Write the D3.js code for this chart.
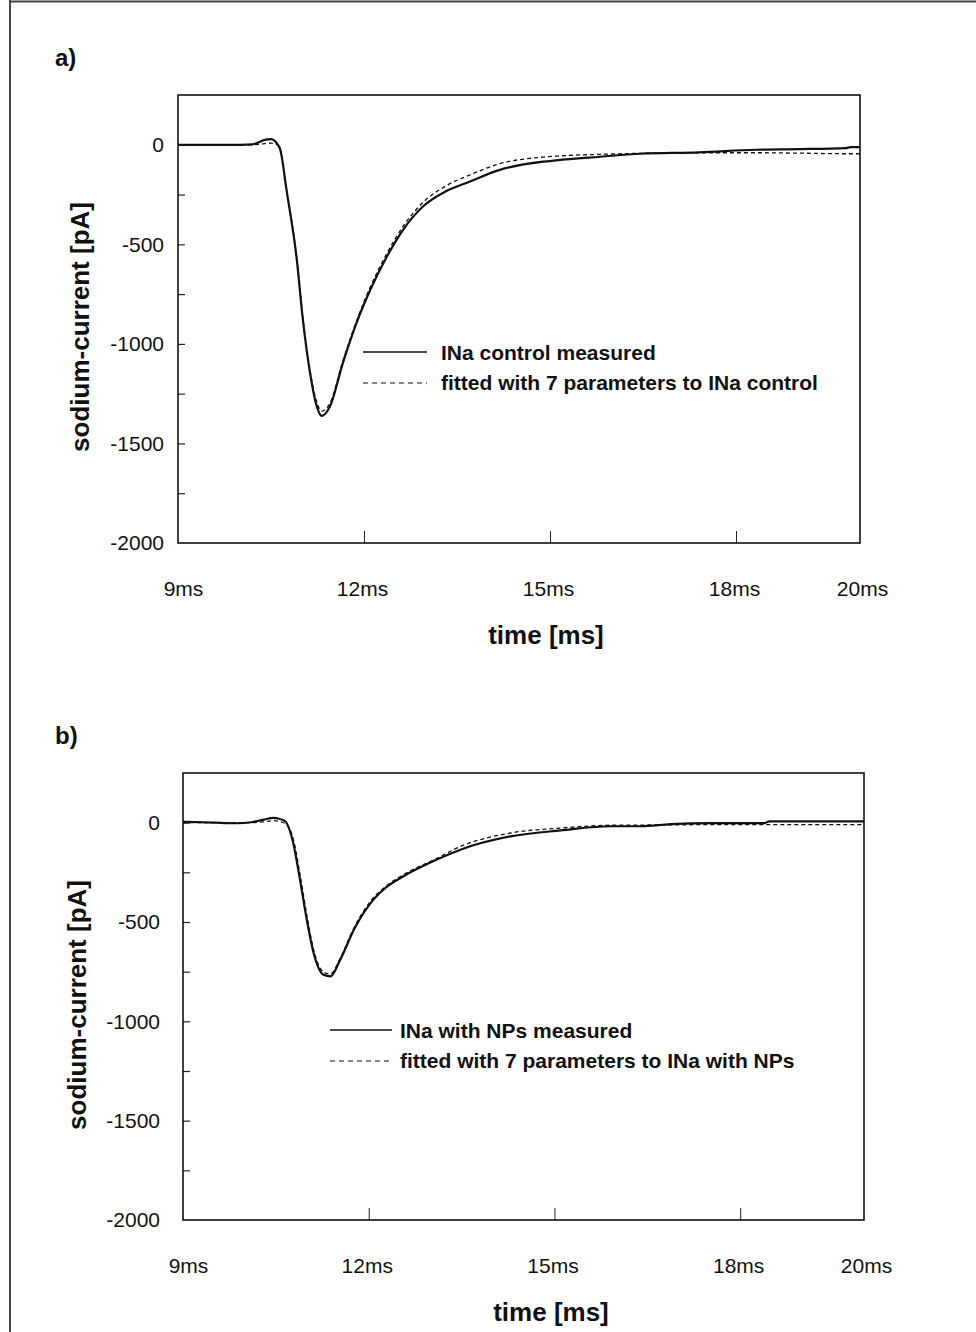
<!DOCTYPE html>
<html>
<head>
<meta charset="utf-8">
<script src="https://cdn.jsdelivr.net/npm/d3@7"></script>
<style>
  body { margin: 0; background: #fff; }
  svg { display: block; font-family: "Liberation Sans", Arial, sans-serif; }
  .tick text { fill: #111; }
</style>
</head>
<body>
<div id="chart"></div>
<script>
// ---- data ----
// panel a: INa control
var timeA = [9.0, 9.5, 10.0, 10.2, 10.3, 10.4, 10.5, 10.56, 10.6, 10.65, 10.75, 10.91, 11.02, 11.13, 11.24, 11.32, 11.45, 11.66, 11.88, 12.10, 12.37, 12.63, 12.95, 13.33, 13.71, 14.19, 14.89, 15.1, 15.81, 16.45, 17.4, 18.32, 19.0, 19.77, 19.85, 20.0];
var measuredA = [0, 0, 0, 2, 12, 25, 28, 20, 5, -25, -226, -561, -894, -1146, -1315, -1362, -1315, -1095, -894, -729, -561, -427, -310, -232, -184, -126, -85, -78, -60, -45, -38, -25, -22, -17, -12, -12];
var fittedA = [0, 0, 0, 0, 2, 6, 8, 5, 0, -22, -220, -555, -885, -1135, -1295, -1338, -1298, -1085, -885, -715, -545, -410, -290, -205, -151, -95, -62, -57, -48, -43, -40, -40, -42, -45, -45, -45];

// panel b: INa with NPs
var timeB = [9.0, 9.5, 9.87, 10.1, 10.3, 10.46, 10.55, 10.65, 10.78, 10.89, 11.0, 11.11, 11.27, 11.38, 11.54, 11.76, 12.03, 12.30, 12.56, 13.10, 13.48, 14.29, 15.1, 15.91, 16.4, 16.88, 17.53, 18.4, 18.47, 20.0];
var measuredB = [5, 0, -3, 2, 15, 24, 20, 7, -102, -287, -489, -656, -766, -774, -690, -539, -405, -321, -270, -186, -136, -69, -39, -18, -18, -7, -2, -2, 7, 7];
var fittedB = [0, 0, 0, 0, 4, 10, 6, -5, -80, -260, -465, -640, -752, -762, -682, -530, -395, -315, -262, -180, -120, -52, -27, -13, -12, -11, -10, -10, -10, -10];

var xTickLabels = [9, 12, 15, 18, 20];
var xInnerTicks = [12, 15, 18];
var yTickLabels = [0, -500, -1000, -1500, -2000];
var yInnerTicks = [-1750, -1500, -1250, -1000, -750, -500, -250, 0];

var legendA = ["INa control measured", "fitted with 7 parameters to INa control"];
var legendB = ["INa with NPs measured", "fitted with 7 parameters to INa with NPs"];

// ---- layout ----
var W = 976, H = 1332;
var svg = d3.select("#chart").append("svg")
    .attr("width", W)
    .attr("height", H);

svg.append("rect").attr("width", W).attr("height", H).attr("fill", "#fff");

// outer frame (top and left edges visible)
svg.append("line").attr("x1", 10).attr("x2", W).attr("y1", 1.5).attr("y2", 1.5)
    .attr("stroke", "#444").attr("stroke-width", 2);
svg.append("line").attr("x1", 10).attr("x2", 10).attr("y1", 0).attr("y2", H)
    .attr("stroke", "#444").attr("stroke-width", 2);

function drawPanel(p) {
    var x = d3.scaleLinear().domain([9, 20]).range([p.left, p.right]);
    var y = d3.scaleLinear().domain([-2000, 250]).range([p.bottom, p.top]);
    var g = svg.append("g");

    // panel letter
    g.append("text")
        .attr("x", 55).attr("y", p.letterY)
        .attr("font-size", 24).attr("font-weight", "bold").attr("fill", "#111")
        .text(p.letter);

    // x tick labels (nudged like the original)
    var xAxis = d3.axisBottom(x).tickValues(xTickLabels).tickSize(0).tickPadding(38)
        .tickFormat(function(d) { return d + "ms"; });
    g.append("g")
        .attr("transform", "translate(0," + p.bottom + ")")
        .call(xAxis)
        .call(function(s) { s.select(".domain").remove(); })
        .selectAll("text")
        .attr("font-size", 21)
        .attr("dx", function(d) { return d === 9 ? 5 : (d === 20 ? 2 : -2); });

    // x inner ticks
    g.append("g")
        .attr("transform", "translate(0," + p.bottom + ")")
        .call(d3.axisTop(x).tickValues(xInnerTicks).tickSize(12).tickFormat(""))
        .call(function(s) { s.select(".domain").remove(); })
        .selectAll("line").attr("stroke", "#222").attr("stroke-width", 1);

    // y tick labels
    var yAxis = d3.axisLeft(y).tickValues(yTickLabels).tickSize(0).tickPadding(p.yPad)
        .tickFormat(function(d) { return String(d); });
    g.append("g")
        .attr("transform", "translate(" + p.left + ",0)")
        .call(yAxis)
        .call(function(s) { s.select(".domain").remove(); })
        .selectAll("text").attr("font-size", 21);

    // y inner ticks
    g.append("g")
        .attr("transform", "translate(" + p.left + ",0)")
        .call(d3.axisRight(y).tickValues(yInnerTicks).tickSize(7).tickFormat(""))
        .call(function(s) { s.select(".domain").remove(); })
        .selectAll("line").attr("stroke", "#222").attr("stroke-width", 1.2);

    // plot box
    g.append("rect")
        .attr("x", p.left).attr("y", y(250))
        .attr("width", p.right - p.left).attr("height", p.bottom - y(250))
        .attr("fill", "none").attr("stroke", "#111").attr("stroke-width", 1.6);

    var line = d3.line()
        .x(function(d) { return x(d[0]); })
        .y(function(d) { return y(d[1]); })
        .curve(d3.curveMonotoneX);

    var measured = p.time.map(function(t, i) { return [t, p.measured[i]]; });
    var fitted = p.time.map(function(t, i) { return [t, p.fitted[i]]; });

    g.append("path").datum(fitted)
        .attr("d", line).attr("fill", "none")
        .attr("stroke", "#111").attr("stroke-width", 1.3)
        .attr("stroke-dasharray", "4,3");
    g.append("path").datum(measured)
        .attr("d", line).attr("fill", "none")
        .attr("stroke", "#111").attr("stroke-width", 2.2);

    // legend
    var lg = g.append("g");
    lg.append("line")
        .attr("x1", p.legX).attr("x2", p.legX + p.legLen)
        .attr("y1", p.legY).attr("y2", p.legY)
        .attr("stroke", "#111").attr("stroke-width", 1.6);
    lg.append("line")
        .attr("x1", p.legX).attr("x2", p.legX + p.legLen)
        .attr("y1", p.legY + 31).attr("y2", p.legY + 31)
        .attr("stroke", "#111").attr("stroke-width", 1.2)
        .attr("stroke-dasharray", "5,4");
    lg.selectAll("text.leg").data(p.legend).enter()
        .append("text").attr("class", "leg")
        .attr("x", p.legTextX)
        .attr("y", function(d, i) { return p.legY + 8 + i * 30; })
        .attr("font-size", 21).attr("font-weight", "bold").attr("fill", "#111")
        .text(function(d) { return d; });

    // axis titles
    g.append("text")
        .attr("x", p.xTitleX).attr("y", p.bottom + 101)
        .attr("text-anchor", "middle")
        .attr("font-size", 26).attr("font-weight", "bold").attr("fill", "#111")
        .text("time [ms]");
    g.append("text")
        .attr("transform", "translate(" + p.yTitleX + "," + p.yTitleY + ") rotate(-90)")
        .attr("text-anchor", "middle")
        .attr("font-size", 26).attr("font-weight", "bold").attr("fill", "#111")
        .text("sodium-current [pA]");
}

drawPanel({
    letter: "a)", letterY: 66,
    left: 178, right: 860, top: 95, bottom: 543,
    yPad: 14, yTitleX: 89, yTitleY: 327, xTitleX: 546,
    time: timeA, measured: measuredA, fitted: fittedA,
    legend: legendA, legX: 363, legLen: 64, legTextX: 441, legY: 352
});

drawPanel({
    letter: "b)", letterY: 744,
    left: 183, right: 864, top: 773, bottom: 1220,
    yPad: 23, yTitleX: 86, yTitleY: 1005, xTitleX: 551,
    time: timeB, measured: measuredB, fitted: fittedB,
    legend: legendB, legX: 330, legLen: 62, legTextX: 400, legY: 1030
});
</script>
</body>
</html>
